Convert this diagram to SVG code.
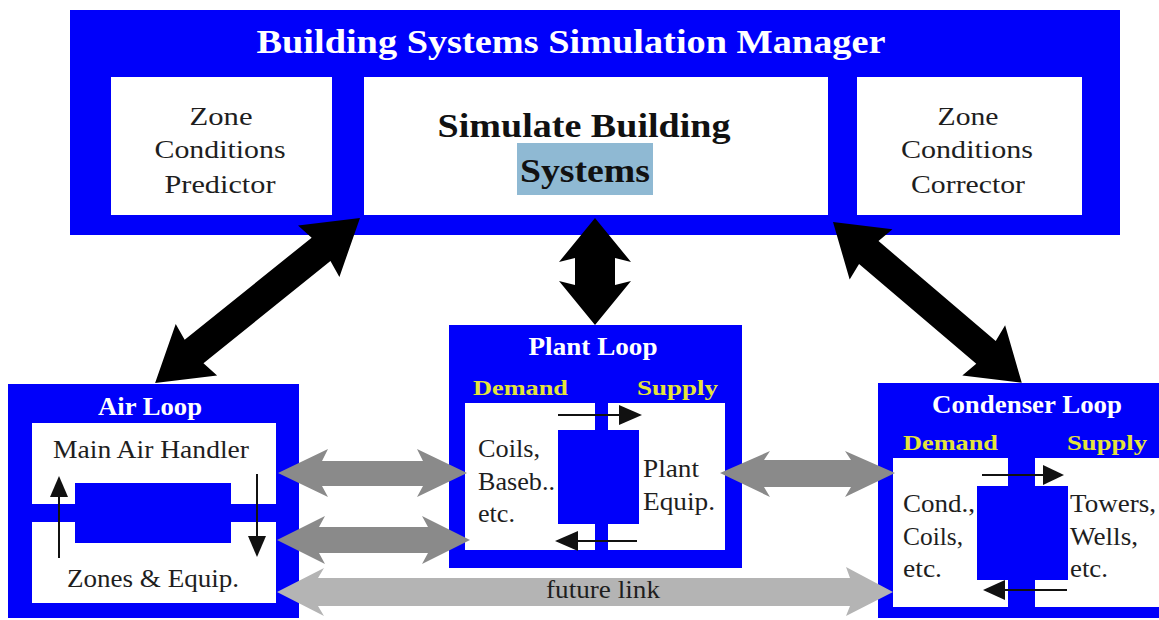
<svg xmlns="http://www.w3.org/2000/svg" width="1159" height="620" viewBox="0 0 1159 620">
<style>
.blue{fill:#0000fa}
.wb{fill:#ffffff}
.t{font-family:"Liberation Serif","Times New Roman",serif;fill:#1e1e1e;font-size:25px}
.th{font-family:"Liberation Serif","Times New Roman",serif;fill:#ffffff;font-weight:bold}
.ty{font-family:"Liberation Serif","Times New Roman",serif;fill:#e4e43a;font-weight:bold;font-size:22px}
.tk{font-family:"Liberation Serif","Times New Roman",serif;fill:#111111;font-weight:bold;font-size:34px}
.ln{stroke:#111111;stroke-width:2;fill:none}
.ah{fill:#111111}
.big{fill:#000000}
.g1{fill:#8a8a8a}
.g2{fill:#b4b4b4}
</style>
<rect width="1159" height="620" fill="#ffffff"/>

<g id="manager">
<rect class="blue" x="70" y="10" width="1050" height="225"/>
<text class="th" x="571" y="53" font-size="34" text-anchor="middle" textLength="629" lengthAdjust="spacingAndGlyphs">Building Systems Simulation Manager</text>
</g>

<g id="predictor">
<rect class="wb" x="111" y="77" width="221" height="138"/>
<text class="t" font-size="26" x="221" y="125" text-anchor="middle" textLength="63" lengthAdjust="spacingAndGlyphs">Zone</text>
<text class="t" font-size="26" x="220" y="158" text-anchor="middle" textLength="131" lengthAdjust="spacingAndGlyphs">Conditions</text>
<text class="t" font-size="26" x="220" y="193" text-anchor="middle" textLength="111" lengthAdjust="spacingAndGlyphs">Predictor</text>
</g>

<g id="simulate">
<rect class="wb" x="364" y="77" width="464" height="138"/>
<rect x="517" y="143" width="136" height="52" fill="#8fb9d3"/>
<text class="tk" x="584" y="137" text-anchor="middle" textLength="293" lengthAdjust="spacingAndGlyphs">Simulate Building</text>
<text class="tk" x="585" y="182" text-anchor="middle" textLength="130" lengthAdjust="spacingAndGlyphs">Systems</text>
</g>

<g id="corrector">
<rect class="wb" x="857" y="77" width="225" height="138"/>
<text class="t" font-size="26" x="968" y="125" text-anchor="middle" textLength="61" lengthAdjust="spacingAndGlyphs">Zone</text>
<text class="t" font-size="26" x="967" y="158" text-anchor="middle" textLength="132" lengthAdjust="spacingAndGlyphs">Conditions</text>
<text class="t" font-size="26" x="968" y="193" text-anchor="middle" textLength="114" lengthAdjust="spacingAndGlyphs">Corrector</text>
</g>

<g id="airloop">
<rect class="blue" x="8" y="384" width="291" height="234"/>
<text class="th" font-size="25" x="150" y="415" text-anchor="middle" textLength="104" lengthAdjust="spacingAndGlyphs">Air Loop</text>
<rect class="wb" x="32" y="423" width="244" height="81"/>
<rect class="wb" x="32" y="522" width="244" height="81"/>
<text class="t" x="151" y="458" text-anchor="middle" textLength="196" lengthAdjust="spacingAndGlyphs">Main Air Handler</text>
<text class="t" x="153" y="587" text-anchor="middle" textLength="172" lengthAdjust="spacingAndGlyphs">Zones &amp; Equip.</text>
<rect class="blue" x="75" y="483" width="156" height="60"/>
<line class="ln" x1="59" y1="558" x2="59" y2="492"/>
<polygon class="ah" points="59,476 50,497 68,497"/>
<line class="ln" x1="257" y1="474" x2="257" y2="540"/>
<polygon class="ah" points="257,557 248,536 266,536"/>
</g>

<g id="plantloop">
<rect class="blue" x="449" y="325" width="293" height="243"/>
<text class="th" font-size="25" x="593" y="355" text-anchor="middle" textLength="129" lengthAdjust="spacingAndGlyphs">Plant Loop</text>
<text class="ty" x="473" y="395" textLength="95" lengthAdjust="spacingAndGlyphs">Demand</text>
<text class="ty" x="637" y="395" textLength="81" lengthAdjust="spacingAndGlyphs">Supply</text>
<rect class="wb" x="465" y="403" width="130" height="147"/>
<rect class="wb" x="608" y="403" width="117" height="147"/>
<text class="t" font-size="24" x="478" y="457" textLength="62" lengthAdjust="spacingAndGlyphs">Coils,</text>
<text class="t" font-size="24" x="478" y="490" textLength="77" lengthAdjust="spacingAndGlyphs">Baseb..</text>
<text class="t" font-size="24" x="478" y="522" textLength="37" lengthAdjust="spacingAndGlyphs">etc.</text>
<text class="t" font-size="24" x="643" y="477" textLength="56" lengthAdjust="spacingAndGlyphs">Plant</text>
<text class="t" font-size="24" x="643" y="510" textLength="72" lengthAdjust="spacingAndGlyphs">Equip.</text>
<rect class="blue" x="558" y="430" width="81" height="94"/>
<line class="ln" x1="558" y1="415" x2="624" y2="415"/>
<polygon class="ah" points="642,415 619,405 619,425"/>
<line class="ln" x1="637" y1="541" x2="572" y2="541"/>
<polygon class="ah" points="555,541 578,531 578,551"/>
</g>

<g id="condenserloop">
<rect class="blue" x="878" y="383" width="281" height="235"/>
<text class="th" font-size="25" x="1027" y="413" text-anchor="middle" textLength="190" lengthAdjust="spacingAndGlyphs">Condenser Loop</text>
<text class="ty" x="903" y="450" textLength="95" lengthAdjust="spacingAndGlyphs">Demand</text>
<text class="ty" x="1067" y="450" textLength="80" lengthAdjust="spacingAndGlyphs">Supply</text>
<rect class="wb" x="893" y="458" width="115" height="149"/>
<rect class="wb" x="1035" y="458" width="124" height="149"/>
<text class="t" font-size="24" x="903" y="512" textLength="72" lengthAdjust="spacingAndGlyphs">Cond.,</text>
<text class="t" font-size="24" x="903" y="545" textLength="60" lengthAdjust="spacingAndGlyphs">Coils,</text>
<text class="t" font-size="24" x="903" y="577" textLength="39" lengthAdjust="spacingAndGlyphs">etc.</text>
<text class="t" font-size="24" x="1070" y="512" textLength="86" lengthAdjust="spacingAndGlyphs">Towers,</text>
<text class="t" font-size="24" x="1070" y="545" textLength="68" lengthAdjust="spacingAndGlyphs">Wells,</text>
<text class="t" font-size="24" x="1070" y="577" textLength="38" lengthAdjust="spacingAndGlyphs">etc.</text>
<rect class="blue" x="977" y="486" width="91" height="94"/>
<line class="ln" x1="982" y1="475" x2="1048" y2="475"/>
<polygon class="ah" points="1064,475 1043,465 1043,485"/>
<line class="ln" x1="1067" y1="590" x2="1000" y2="590"/>
<polygon class="ah" points="983,590 1005,580 1005,600"/>
</g>

<g id="connectors">
<polygon class="big" transform="translate(360,218) rotate(141.17)" points="0,0 53,-33 50,-15 213,-15 210,-33 263,0 210,33 213,15 50,15 53,33"/>
<polygon class="big" transform="translate(833,222) rotate(40.43)" points="0,0 50,-33 47,-15 201,-15 198,-33 248,0 198,33 201,15 47,15 50,33"/>
<polygon class="big" transform="translate(595,218) rotate(90)" points="0,0 44,-36 40,-20 67,-20 63,-36 107,0 63,36 67,20 40,20 44,36"/>
<polygon class="g1" points="278,473 328,449 322,461 423,461 417,449 467,473 417,497 423,486 322,486 328,497"/>
<polygon class="g1" points="277,540 325,516 319,527 428,527 422,516 470,540 422,564 428,553 319,553 325,564"/>
<polygon class="g1" points="720,473 770,451 764,460 851,460 845,451 895,473 845,497 851,487 764,487 770,497"/>
<polygon class="g2" points="277,592 324,568 318,578 850,578 846,567 893,592 846,616 850,606 318,606 324,616"/>
<text class="t" font-size="22" x="603" y="598" text-anchor="middle" textLength="114" lengthAdjust="spacingAndGlyphs">future link</text>
</g>
</svg>
